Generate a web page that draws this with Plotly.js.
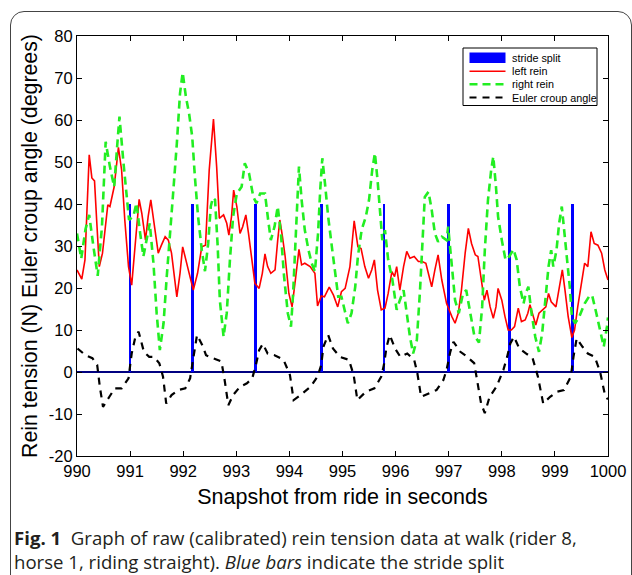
<!DOCTYPE html>
<html>
<head>
<meta charset="utf-8">
<script src="https://cdn.plot.ly/plotly-3.0.1.min.js"></script>
<style>
  html, body { margin: 0; padding: 0; width: 632px; height: 575px; overflow: hidden; background: #fff; }
  #frame { position: absolute; left: 10px; top: 11px; width: 620px; height: 620px; border: 1.2px solid #444; border-radius: 14px; }
  #chart { position: absolute; left: 0; top: 0; width: 632px; height: 575px; }
</style>
</head>
<body>
<div id="frame"></div>
<div id="chart"></div>
<script>
// ---- stride split (blue bars) ----
const strideT = [991.00, 992.17, 993.36, 994.61, 995.78, 996.99, 998.14, 999.33];
const strideH = [40, 40, 40, 40, 40, 40, 40, 40];

// ---- left rein (N) ----
const leftT = [990.00,990.09,990.15,990.23,990.28,990.33,990.37,990.42,990.48,990.53,990.58,990.62,990.66,990.70,990.78,990.84,990.90,990.97,
991.03,991.09,991.17,991.22,991.29,991.34,991.39,991.46,991.53,991.59,991.66,991.72,991.78,991.88,991.94,991.99,
992.05,992.13,992.19,992.27,992.35,992.42,992.49,992.57,992.63,992.68,992.76,992.82,992.86,992.91,992.95,
993.01,993.07,993.12,993.18,993.23,993.29,993.35,993.43,993.49,993.54,993.59,993.65,993.73,993.78,993.82,993.87,993.92,993.99,
994.05,994.12,994.18,994.23,994.29,994.39,994.48,994.53,994.60,994.66,994.75,994.83,994.91,994.98,
995.05,995.14,995.22,995.29,995.35,995.42,995.49,995.55,995.60,995.66,995.73,995.80,995.86,995.93,995.98,
996.02,996.08,996.15,996.21,996.27,996.35,996.43,996.50,996.57,996.68,996.74,996.80,996.87,996.96,
997.06,997.12,997.18,997.24,997.31,997.37,997.43,997.50,997.55,997.61,997.67,997.72,997.78,997.84,997.89,997.93,
998.00,998.06,998.12,998.18,998.24,998.31,998.37,998.44,998.49,998.53,998.59,998.64,998.70,998.76,998.83,998.88,998.93,
999.02,999.08,999.14,999.19,999.25,999.32,999.37,999.43,999.49,999.56,999.62,999.68,999.74,999.81,999.88,999.94,1000.00];
const leftV = [24.3,22.1,26.7,51.7,46.2,45.5,36.2,25.1,28.3,34.6,39.8,39.4,41.7,44.1,53.5,48.1,36.2,25.1,
20.7,29.8,41.1,37.8,31.4,37.0,41.0,34.6,28.3,30.2,32.2,31.4,28.3,17.9,23.5,29.8,
26.7,21.9,19.5,23.5,29.8,30.2,48.1,60.2,48.9,36.6,37.4,35.4,32.6,37.0,43.3,
39.4,33.0,34.6,37.4,33.0,26.7,21.1,19.9,23.5,28.1,25.1,23.5,24.3,31.4,36.2,32.2,27.5,18.7,
15.5,22.7,29.2,25.5,25.9,25.1,23.5,15.7,18.1,17.9,20.2,18.3,15.5,19.1,
19.9,25.1,36.0,29.8,29.4,25.1,22.3,24.3,26.7,19.5,14.8,15.2,18.7,23.9,22.7,
25.1,19.5,25.1,28.7,27.1,27.5,26.3,26.3,25.9,20.3,24.3,27.9,21.9,16.3,
13.2,11.6,14.0,19.5,28.3,34.2,30.6,27.9,27.5,22.7,17.1,19.5,15.5,12.8,15.5,19.9,
17.1,13.2,10.0,10.0,10.8,15.2,12.0,12.4,14.0,16.0,13.2,11.2,14.0,14.8,15.5,18.7,16.7,
15.5,19.5,24.3,19.5,13.2,8.2,10.0,15.5,20.3,25.9,25.1,33.4,30.6,30.2,28.3,24.3,21.9];

// ---- right rein (N) ----
const rightT = [990.00,990.08,990.16,990.23,990.31,990.39,990.47,990.54,990.62,990.70,990.76,990.80,990.87,990.94,990.98,
991.06,991.12,991.19,991.25,991.31,991.37,991.44,991.50,991.56,991.63,991.69,991.75,991.81,991.88,991.94,991.99,
992.05,992.11,992.17,992.22,992.28,992.35,992.41,992.47,992.52,992.56,992.60,992.65,992.69,992.76,992.82,992.88,992.94,
993.01,993.10,993.16,993.24,993.32,993.38,993.45,993.54,993.60,993.65,993.72,993.78,993.84,993.90,993.97,
994.03,994.07,994.12,994.16,994.18,994.23,994.29,994.36,994.42,994.48,994.54,994.58,994.62,994.67,994.73,994.80,994.86,994.92,994.98,
995.03,995.10,995.17,995.24,995.29,995.36,995.44,995.50,995.56,995.61,995.66,995.71,995.75,995.80,995.86,995.94,
996.02,996.08,996.15,996.21,996.27,996.33,996.40,996.46,996.50,996.55,996.62,996.68,996.74,996.80,996.87,996.96,996.99,
997.06,997.12,997.19,997.27,997.33,997.40,997.48,997.57,997.63,997.68,997.74,997.80,997.84,997.89,997.93,
998.00,998.07,998.14,998.22,998.28,998.34,998.41,998.45,998.50,998.56,998.63,998.70,998.76,998.83,998.88,998.93,998.97,
999.03,999.08,999.13,999.17,999.22,999.28,999.32,999.38,999.46,999.56,999.64,999.70,999.78,999.86,999.92,999.98,1000.00];
const rightV = [33.0,27.0,34.0,37.4,29.8,22.9,34.6,54.8,48.9,44.1,54.4,60.8,50.5,41.0,36.2,
37.0,40.2,33.0,27.5,31.4,35.4,25.9,14.0,5.2,11.6,22.7,33.8,42.5,54.4,66.3,71.3,
65.6,61.6,56.0,46.5,37.0,29.0,24.0,30.5,39.5,41.5,41.0,29.8,17.1,8.4,14.0,26.7,37.0,
42.5,44.1,49.7,47.3,41.7,40.2,42.5,42.5,36.2,31.4,34.6,39.4,33.0,22.7,14.0,
10.8,18.7,33.0,42.5,48.9,41.0,33.8,29.0,25.9,23.9,33.0,43.3,50.9,44.9,37.0,29.8,23.5,17.9,17.9,
15.0,11.6,14.0,20.3,27.5,33.8,37.0,41.0,48.1,52.1,45.7,38.6,31.4,33.8,26.7,21.9,
14.8,17.1,19.5,14.0,8.4,4.4,7.6,19.5,29.8,41.7,42.9,38.6,33.0,31.0,32.2,31.4,34.6,
25.9,17.1,14.0,18.7,19.5,14.5,8.8,7.0,15.5,29.0,41.0,48.1,51.3,44.1,37.0,
31.4,26.7,27.5,29.2,26.7,20.3,16.3,18.7,20.3,14.0,8.4,4.8,9.2,18.7,25.1,29.0,25.1,
29.0,35.4,39.4,34.6,27.5,20.3,13.2,11.6,13.2,16.3,17.9,18.3,14.0,9.2,6.0,10.8,13.0];

// ---- Euler croup angle (degrees) ----
const eulerT = [990.01,990.16,990.29,990.38,990.43,990.49,990.61,990.71,990.84,990.97,
991.03,991.10,991.16,991.26,991.36,991.45,991.55,991.62,991.68,991.78,991.91,
992.04,992.13,992.20,992.26,992.36,992.43,992.56,992.72,992.78,992.85,992.94,
993.07,993.20,993.30,993.37,993.43,993.50,993.59,993.72,993.89,
994.01,994.08,994.21,994.40,994.53,994.60,994.64,994.73,994.82,994.95,
995.12,995.21,995.28,995.44,995.60,995.73,995.78,995.83,995.89,995.99,
996.09,996.22,996.35,996.41,996.48,996.61,996.77,996.90,996.96,
997.03,997.09,997.22,997.35,997.48,997.55,997.61,997.68,997.77,997.90,
998.03,998.10,998.16,998.23,998.33,998.46,998.58,998.68,998.78,998.91,
999.04,999.17,999.30,999.35,999.41,999.52,999.62,999.75,999.85,999.95,1000.00];
const eulerV = [5.6,4.0,3.3,1.7,-3.5,-8.3,-5.9,-3.9,-3.9,-1.5,
4.4,8.4,9.6,4.8,3.6,3.6,2.1,-1.1,-7.5,-5.5,-4.3,
-3.9,-1.5,4.4,8.8,6.4,4.0,3.3,2.5,-1.9,-7.9,-5.5,
-3.5,-2.7,-1.5,1.7,5.2,6.7,4.4,4.0,2.9,
-0.7,-6.7,-5.5,-3.5,-1.1,1.7,6.0,8.8,5.6,3.6,
2.9,-0.7,-6.7,-4.7,-3.9,-1.1,1.7,6.0,8.8,5.6,
3.6,4.4,2.9,-0.3,-5.9,-5.1,-4.3,-1.9,0.5,
4.8,7.2,4.8,3.6,2.1,-2.7,-7.5,-9.8,-5.9,-3.5,
0.5,3.6,6.8,8.4,5.6,4.4,3.3,-1.1,-7.5,-5.9,
-4.7,-4.3,-1.1,3.6,8.0,6.0,4.4,3.6,0.1,-5.9,-6.5];

const xTicks = [990,991,992,993,994,995,996,997,998,999,1000];
const yTicks = [-20,-10,0,10,20,30,40,50,60,70,80];

const seriesNames = ['stride split', 'left rein', 'right rein', 'Euler croup angle'];
const xTitle = 'Snapshot from ride in seconds';
const yTitle = 'Rein tension (N) Euler croup angle (degrees)';
const caption = '<b>Fig. 1</b>\u00a0\u00a0Graph of raw (calibrated) rein tension data at walk (rider 8,<br>horse 1, riding straight). <i>Blue bars</i> indicate the stride split';

const FONT = 'Liberation Sans, Arial, Helvetica, sans-serif';
const COLORS = ['#0000ff', '#ff0000', '#22ee22', '#000000'];
const DASHES = ['solid', 'solid', '8px,5px', '7px,6px'];
const WIDTHS = [0, 1.6, 2.6, 2.2];

// plot area in pixels (for placing the drawn legend box and caption)
const M = { l: 77, r: 24, t: 36, b: 119 };
const PW = 632 - M.l - M.r, PH = 575 - M.t - M.b;
const px = v => (v - M.l) / PW;
const py = v => (575 - M.b - v) / PH;

const traces = [
  { type: 'bar', name: seriesNames[0], x: strideT, y: strideH, width: 0.05,
    marker: { color: COLORS[0], line: { width: 0 } } },
  { type: 'scatter', mode: 'lines', name: seriesNames[1], x: leftT, y: leftV,
    line: { color: COLORS[1], width: WIDTHS[1] } },
  { type: 'scatter', mode: 'lines', name: seriesNames[2], x: rightT, y: rightV,
    line: { color: COLORS[2], width: WIDTHS[2], dash: DASHES[2] } },
  { type: 'scatter', mode: 'lines', name: seriesNames[3], x: eulerT, y: eulerV,
    line: { color: COLORS[3], width: WIDTHS[3], dash: DASHES[3] } }
];

// legend box drawn MATLAB-style (compact rows)
const LB = { x0: 463, x1: 597, y0: 48, y1: 105.5 };
const rowY = [57.7, 71.3, 84.3, 97.5];
const symX0 = 469.5, symX1 = 505.5, txtX = 509.5;
const shapes = [
  { type: 'rect', xref: 'paper', yref: 'paper', layer: 'above',
    x0: px(LB.x0), x1: px(LB.x1), y0: py(LB.y1), y1: py(LB.y0),
    fillcolor: '#ffffff', line: { color: '#000', width: 1 } },
  { type: 'rect', xref: 'paper', yref: 'paper', layer: 'above',
    x0: px(symX0), x1: px(symX1), y0: py(rowY[0] + 5.3), y1: py(rowY[0] - 5.3),
    fillcolor: COLORS[0], line: { width: 0 } }
];
for (let i = 1; i < 4; i++) {
  shapes.push({ type: 'line', xref: 'paper', yref: 'paper', layer: 'above',
    x0: px(symX0), x1: px(symX1), y0: py(rowY[i]), y1: py(rowY[i]),
    line: { color: COLORS[i], width: WIDTHS[i], dash: DASHES[i] } });
}
const annotations = seriesNames.map((n, i) => ({
  xref: 'paper', yref: 'paper', x: px(txtX), y: py(rowY[i]),
  xanchor: 'left', yanchor: 'middle', showarrow: false, text: n,
  font: { family: FONT, size: 10.8, color: '#000' }
}));
annotations.push({
  xref: 'paper', yref: 'paper', x: px(12), y: py(549),
  xanchor: 'left', yanchor: 'middle', align: 'left', showarrow: false,
  text: caption,
  font: { family: 'Open Sans, Noto Sans, sans-serif', size: 18.6, color: '#231f20' }
});

const layout = {
  width: 632, height: 575,
  margin: { l: M.l, r: M.r, t: M.t, b: M.b, pad: 0 },
  paper_bgcolor: 'rgba(0,0,0,0)',
  plot_bgcolor: 'rgba(0,0,0,0)',
  font: { family: FONT, color: '#000', size: 16.5 },
  showlegend: false,
  bargap: 0,
  xaxis: {
    range: [990, 1000], tickvals: xTicks, ticktext: xTicks.map(String),
    ticks: 'inside', ticklen: 5, tickwidth: 1, tickcolor: '#000',
    showline: true, linecolor: '#000', linewidth: 1, mirror: 'ticks',
    showgrid: false, zeroline: false,
    tickfont: { family: FONT, size: 16.5, color: '#000' },
    title: { text: xTitle, font: { family: FONT, size: 21.5, color: '#000' }, standoff: 10 }
  },
  yaxis: {
    range: [-20, 80], tickvals: yTicks, ticktext: yTicks.map(String),
    ticks: 'inside', ticklen: 5, tickwidth: 1, tickcolor: '#000',
    showline: true, linecolor: '#000', linewidth: 1, mirror: 'ticks',
    showgrid: false,
    zeroline: true, zerolinecolor: '#000080', zerolinewidth: 2,
    tickfont: { family: FONT, size: 16.5, color: '#000' },
    title: { text: yTitle, font: { family: FONT, size: 21.3, color: '#000' }, standoff: 5 }
  },
  shapes: shapes,
  annotations: annotations
};

Plotly.newPlot('chart', traces, layout, { displayModeBar: false, staticPlot: true });
</script>
</body>
</html>
